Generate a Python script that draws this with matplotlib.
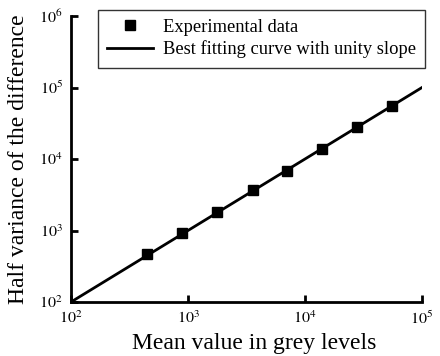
import numpy as np
import matplotlib.pyplot as plt
from matplotlib.ticker import FixedLocator, FuncFormatter

plt.rcParams['font.family'] = ['Liberation Serif', 'DejaVu Serif']
plt.rcParams['mathtext.fontset'] = 'stix'

# measured points (mean grey level, half variance of the difference)
mean_vals = [447, 889, 1770, 3600, 7010, 13970, 27800, 55500]
half_var = [469, 923, 1815, 3680, 6790, 13800, 28000, 55100]

# unity-slope fit
fit_x = [1e2, 1e5]
fit_y = [1e2, 1e5]

fig = plt.figure(figsize=(4.4, 3.56), dpi=100)
ax = fig.add_axes([71 / 440, 1 - 302 / 356, (422 - 71) / 440, (302 - 16) / 356])

ax.plot(fit_x, fit_y, color='black', lw=2, label='Best fitting curve with unity slope', zorder=2)
ax.plot(mean_vals, half_var, 's', color='black', ms=7, label='Experimental data', zorder=3)

ax.set_xscale('log')
ax.set_yscale('log')
ax.set_xlim(1e2, 1e5)
ax.set_ylim(1e2, 1e6)

ax.xaxis.set_major_locator(FixedLocator([1e2, 1e3, 1e4, 1e5]))
ax.yaxis.set_major_locator(FixedLocator([1e2, 1e3, 1e4, 1e5, 1e6]))
ax.xaxis.set_minor_locator(FixedLocator([]))
ax.yaxis.set_minor_locator(FixedLocator([]))
fmt = FuncFormatter(lambda v, p: r'$10^{%d}$' % round(np.log10(v)))
ax.xaxis.set_major_formatter(fmt)
ax.yaxis.set_major_formatter(fmt)

for s in ['top', 'right']:
    ax.spines[s].set_visible(False)
for s in ['left', 'bottom']:
    ax.spines[s].set_linewidth(2)
ax.tick_params(direction='in', length=5, width=2, labelsize=11.5, pad=6)

ax.set_xlabel('Mean value in grey levels', fontsize=17, labelpad=3)
ax.xaxis.set_label_coords(0.523, -0.108)
ax.set_ylabel('Half variance of the difference', fontsize=17, labelpad=7)

h, l = ax.get_legend_handles_labels()
leg = ax.legend(h[::-1], l[::-1], loc='upper right', fontsize=13.3, frameon=True, fancybox=False,
                edgecolor='black', borderaxespad=0.0, handlelength=2.5, labelspacing=0.25,
                borderpad=0.5, handletextpad=0.5, bbox_to_anchor=(1.008, 1.022))
leg.get_frame().set_linewidth(1)

fig.savefig('out.png', dpi=100)
